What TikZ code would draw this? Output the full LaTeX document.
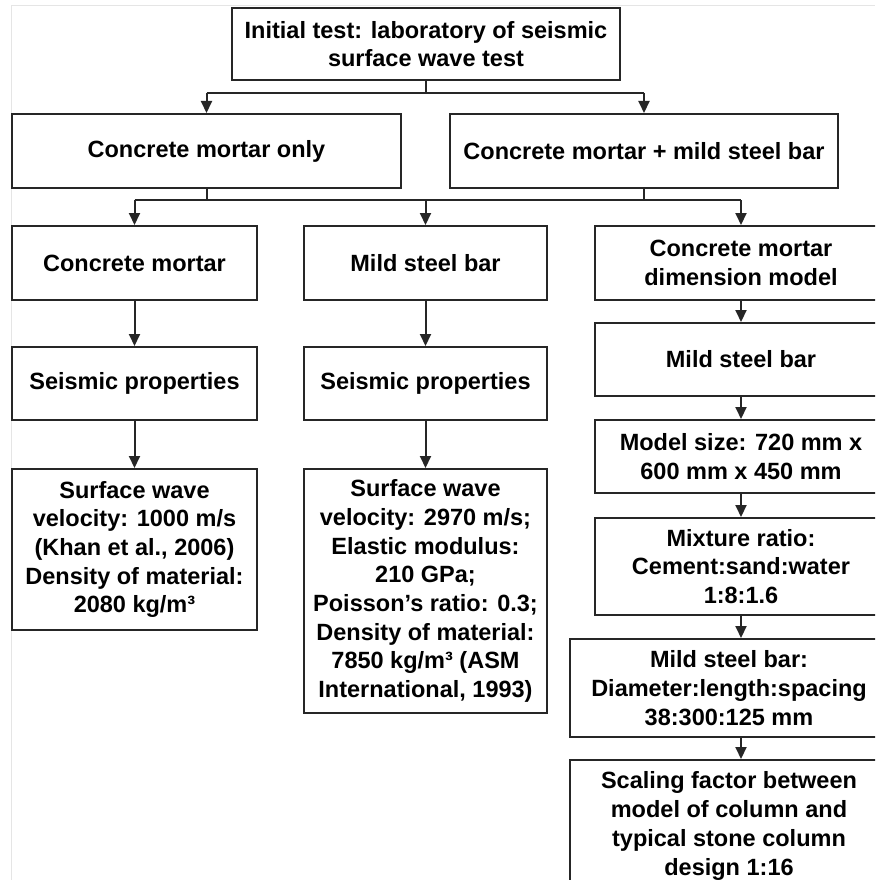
\documentclass[tikz,border=0pt]{standalone}
\usepackage{fontspec}
\setmainfont{Liberation Sans}
\usetikzlibrary{arrows.meta,positioning}

\tikzset{
  box/.style={draw=black!85, line width=2pt, fill=white, inner sep=0pt,
    align=center, font=\bfseries\fontsize{23.5}{28.7}\selectfont},
  link/.style={draw=black!85, line width=2pt},
  arr/.style={link, -{Triangle[length=12pt,width=11pt]}},
}

\begin{document}
\begin{tikzpicture}[x=1pt, y=-1pt]
  \useasboundingbox (0,0) rectangle (875,880);
  \fill[white] (0,0) rectangle (875,880);
  \clip (0,0) rectangle (875,880);
  % faint outer frame
  \draw[gray!20, line width=1pt] (11,880) -- (11,6) -- (875,6);

  % top level
  \node[box, minimum width=388pt, minimum height=72pt] (top) at (426,44)
    {Initial test: laboratory of seismic\\surface wave test};

  % second level
  \node[box, minimum width=389pt, minimum height=74pt] (only) at (206.5,151)
    {Concrete mortar only};
  \node[box, minimum width=388pt, minimum height=74pt] (plus) at (644,151)
    {Concrete mortar + mild steel bar};

  % column 1
  \node[box, minimum width=245pt, minimum height=74pt] (cm) at (134.5,263)
    {Concrete mortar};
  \node[box, minimum width=245pt, minimum height=73pt] (sp1) at (134.5,383.5)
    {Seismic properties};
  \node[box, minimum width=245pt, minimum height=161pt] (val1) at (134.5,549.5)
    {Surface wave\\velocity: 1000 m/s\\(Khan et al., 2006)\\Density of material:\\2080 kg/m³};

  % column 2
  \node[box, minimum width=243pt, minimum height=74pt] (msb) at (425.5,263)
    {Mild steel bar};
  \node[box, minimum width=243pt, minimum height=73pt] (sp2) at (425.5,383.5)
    {Seismic properties};
  \node[box, minimum width=243pt, minimum height=244pt] (val2) at (425.5,591)
    {Surface wave\\velocity: 2970 m/s;\\Elastic modulus:\\210 GPa;\\Poisson’s ratio: 0.3;\\Density of material:\\7850 kg/m³ (ASM\\International, 1993)};

  % column 3
  \node[box, minimum width=292pt, minimum height=74pt] (dim) at (741,263)
    {Concrete mortar\\dimension model};
  \node[box, minimum width=292pt, minimum height=73pt] (bar) at (741,359.5)
    {Mild steel bar};
  \node[box, minimum width=292pt, minimum height=73pt] (size) at (741,456.5)
    {Model size: 720 mm x\\600 mm x 450 mm};
  \node[box, minimum width=292pt, minimum height=97pt] (mix) at (741,566.5)
    {Mixture ratio:\\Cement:sand:water\\1:8:1.6};
  \node[box, minimum width=318pt, minimum height=98pt] (spec) at (729,688)
    {Mild steel bar:\\Diameter:length:spacing\\38:300:125 mm};
  \node[box, minimum width=318pt, minimum height=132pt] (scale) at (729,826)
    {Scaling factor between\\model of column and\\typical stone column\\design 1:16};

  % split below the top box
  \coordinate (bus1) at (0,93);
  \draw[link] (top.south) -- (top.south |- bus1);
  \draw[link] (only.north |- bus1) -- (plus.north |- bus1);
  \draw[arr] (only.north |- bus1) -- (only.north);
  \draw[arr] (plus.north |- bus1) -- (plus.north);

  % join of the two branches into three columns
  \coordinate (bus2) at (0,200);
  \draw[link] (only.south) -- (only.south |- bus2);
  \draw[link] (plus.south) -- (plus.south |- bus2);
  \draw[link] (cm.north |- bus2) -- (dim.north |- bus2);
  \draw[arr] (cm.north |- bus2) -- (cm.north);
  \draw[arr] (msb.north |- bus2) -- (msb.north);
  \draw[arr] (dim.north |- bus2) -- (dim.north);

  % column chains
  \draw[arr] (cm) -- (sp1);
  \draw[arr] (sp1) -- (val1);
  \draw[arr] (msb) -- (sp2);
  \draw[arr] (sp2) -- (val2);
  \draw[arr] (dim) -- (bar);
  \draw[arr] (bar) -- (size);
  \draw[arr] (size) -- (mix);
  \draw[arr] (mix.south) -- (mix.south |- spec.north);
  \draw[arr] (spec.south -| mix.south) -- (mix.south |- scale.north);
\end{tikzpicture}
\end{document}
